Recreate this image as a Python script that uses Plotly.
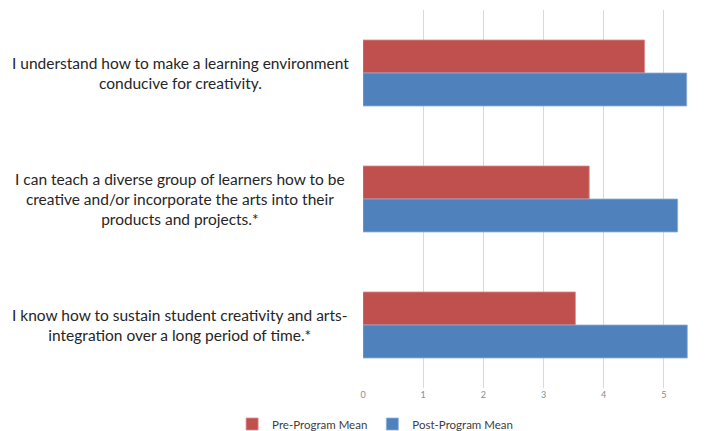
import plotly.graph_objects as go

categories = [
    "I understand how to make a learning environment<br>conducive for creativity.",
    "I can teach a diverse group of learners how to be<br>creative and/or incorporate the arts into their<br>products and projects.*",
    "I know how to sustain student creativity and arts-<br>integration over a long period of time.*",
]
cat_keys = ["c1", "c2", "c3"]
pre_mean = [4.68, 3.76, 3.53]
post_mean = [5.38, 5.23, 5.39]
x_ticks = [0, 1, 2, 3, 4, 5, 6]

fig = go.Figure()
fig.add_trace(go.Bar(
    y=cat_keys, x=pre_mean, orientation="h", name="Pre-Program Mean",
    marker=dict(color="#C0504D", line=dict(color="#D98C8A", width=0.8)),
))
fig.add_trace(go.Bar(
    y=cat_keys, x=post_mean, orientation="h", name="Post-Program Mean",
    marker=dict(color="#4F81BD", line=dict(color="#8EAFD8", width=0.8)),
))

for k, label in zip(cat_keys, categories):
    fig.add_annotation(
        x=0, xref="paper", y=k, yref="y", text=label, showarrow=False,
        xanchor="center", yanchor="middle", xshift=-183, align="center",
        font=dict(family="Lato", size=15.5, color="#262626"),
    )

fig.update_layout(
    width=717, height=423,
    margin=dict(l=355, r=1, t=2, b=43),
    paper_bgcolor="white", plot_bgcolor="white",
    barmode="group", bargap=0.476, bargroupgap=0,
    font=dict(family="Lato", color="#595959"),
    showlegend=True,
    legend=dict(
        orientation="h", xref="container", yref="container",
        x=0.512, y=0.0165, xanchor="center", yanchor="middle",
        font=dict(size=11.5, color="#404040"), traceorder="normal",
        itemwidth=30,
    ),
)
fig.update_xaxes(
    range=[0, 6], tickvals=x_ticks, showgrid=True, gridcolor="#D9D9D9",
    gridwidth=1, zeroline=False, showline=False, ticks="",
    tickfont=dict(size=9, color="#8C8C8C"),
)
fig.update_yaxes(
    autorange="reversed", showticklabels=False, showgrid=False,
    zeroline=False, showline=False, ticks="",
)

fig.write_html("out.html")
